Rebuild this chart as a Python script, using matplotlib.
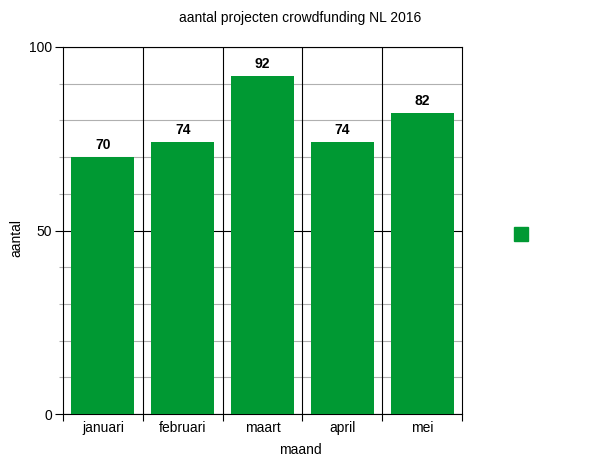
import matplotlib
matplotlib.use("Agg")
import matplotlib.pyplot as plt
from matplotlib.ticker import MultipleLocator
from matplotlib.patches import Rectangle

categories = ["januari", "februari", "maart", "april", "mei"]
values = [70, 74, 92, 74, 82]

plt.rcParams['font.family'] = ['Liberation Sans', 'DejaVu Sans']

fig = plt.figure(figsize=(6, 4.63), dpi=100)
ax = fig.add_axes([63/600, 1-414/463, (462-63)/600, (414-47)/463])

x = list(range(len(categories)))
green = "#009933"
ax.bar(x, values, width=0.79, color=green, zorder=3)
for xi, v in zip(x, values):
    ax.text(xi, v + 1.4, str(v), ha="center", va="bottom", fontsize=10, fontweight="bold", zorder=4)

ax.set_xlim(-0.5, len(categories) - 0.5)
ax.set_ylim(0, 100)
ax.yaxis.set_major_locator(MultipleLocator(50))
ax.yaxis.set_minor_locator(MultipleLocator(10))
ax.grid(True, axis="y", which="minor", color="#b0b0b0", linewidth=0.8, zorder=1)
ax.grid(True, axis="y", which="major", color="black", linewidth=0.8, zorder=2)
ax.tick_params(axis="y", which="major", length=6, width=0.8, labelsize=10, pad=2)
ax.tick_params(axis="y", which="minor", length=3, width=0.8, color="#b0b0b0")

# category boundaries
ax.set_xticks([i + 0.5 for i in range(-1, len(categories))], minor=False)
ax.set_xticklabels([""] * (len(categories) + 1))
ax.set_xticks(x, minor=True)
ax.set_xticklabels(categories, minor=True, fontsize=10)
ax.tick_params(axis="x", which="major", length=5, width=0.8)
ax.tick_params(axis="x", which="minor", length=0, pad=5)
for b in range(len(categories) - 1):
    ax.axvline(b + 0.5, color="black", linewidth=0.8, zorder=2)

for s in ax.spines.values():
    s.set_linewidth(0.8)
    s.set_color("black")

fig.text(300/600, 1-450/463, "maand", ha="center", va="center", fontsize=10)
fig.text(16/600, 1-238/463, "aantal", ha="center", va="center", rotation=90, fontsize=10)
fig.text(0.5, 1-18/463, "aantal projecten crowdfunding NL 2016", ha="center", va="center", fontsize=10)

# legend marker without label
fig.patches.append(Rectangle((514/600, 1-241/463), 14/600, 14/463, transform=fig.transFigure, color=green))

fig.savefig("out.png", dpi=100)
